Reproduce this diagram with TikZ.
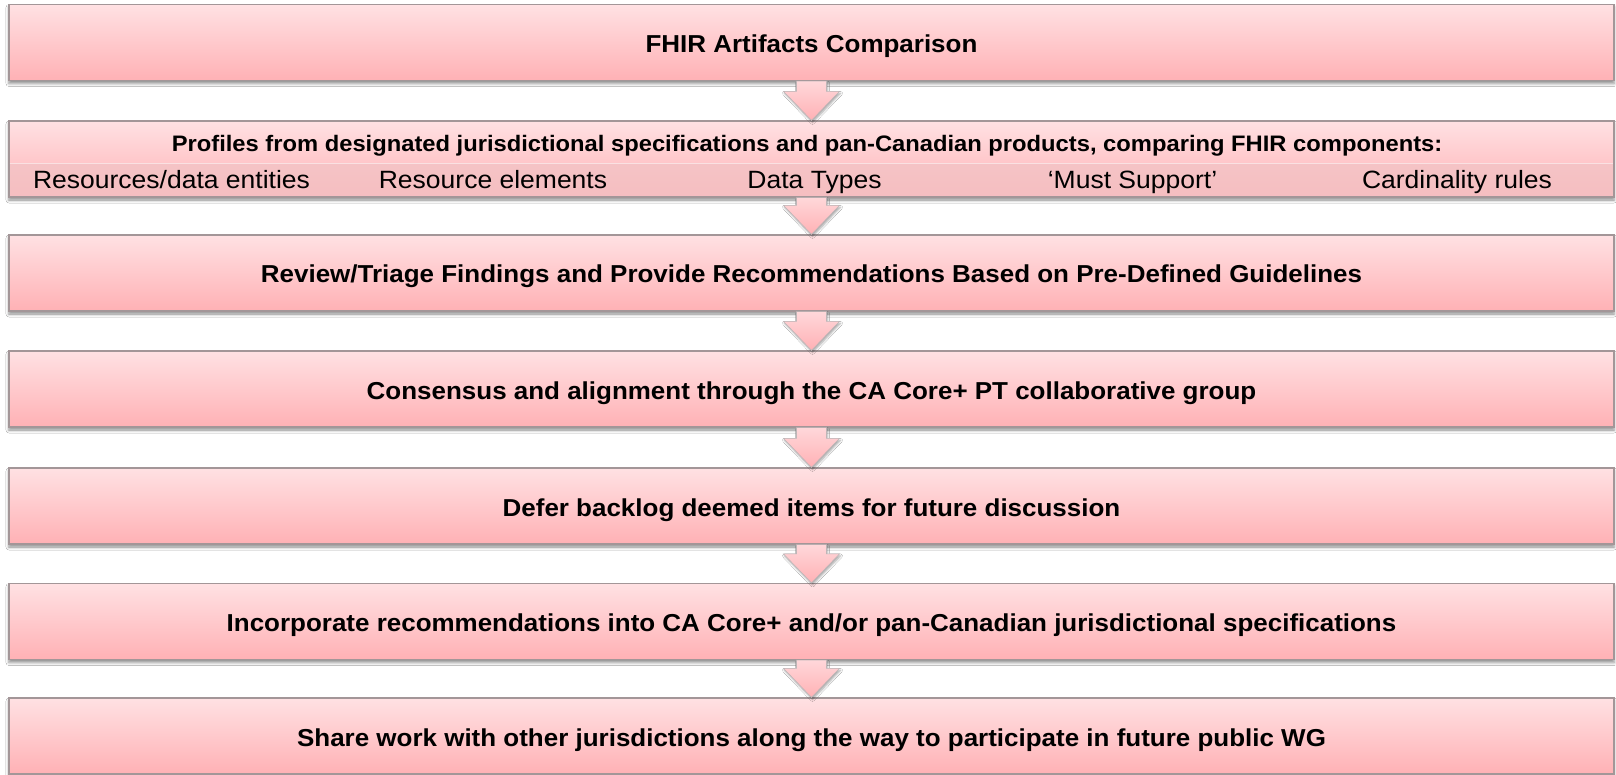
\documentclass[tikz,border=0pt]{standalone}
\usepackage{fontspec}
\setmainfont{Liberation Sans}
\newfontfamily\boxfont[FakeStretch=1.06]{Liberation Sans}
\usetikzlibrary{shadows.blur,calc}
\definecolor{pinktop}{HTML}{FFE1E3}
\definecolor{pinkbot}{HTML}{FFB1B5}
\definecolor{edgegray}{HTML}{A39698}
\definecolor{bandpink}{HTML}{F2C3C5}
\tikzset{
  stepbox/.style={draw=edgegray, line width=1.2pt, top color=pinktop, bottom color=pinkbot,
    minimum width=1605pt, minimum height=76pt, inner sep=0pt, anchor=center,
    text height=20pt, text depth=0pt,
    blur shadow={shadow xshift=0pt, shadow yshift=-3pt, shadow blur radius=3pt, shadow opacity=45},
    font=\boxfont\fontsize{24.5}{28}\selectfont\bfseries},
  bandtxt/.style={font=\boxfont\fontsize{25}{29}\selectfont, inner sep=0pt, anchor=base},
  downarrow/.style={draw=edgegray!70, line width=0.6pt, top color=pinktop!80!pinkbot, bottom color=pinkbot,
    blur shadow={shadow xshift=1pt, shadow yshift=-2pt, shadow blur radius=2pt, shadow opacity=35}}
}
\newcommand{\blockarrow}[2]{%
  \path[downarrow] let \p1=(#1.south), \p2=(#2.north) in
    (\x1-15pt,\y1) -- (\x1+15pt,\y1) -- (\x1+15pt,\y2+29pt) -- (\x1+28pt,\y2+29pt)
    -- (\x1,\y2) -- (\x1-28pt,\y2+29pt) -- (\x1-15pt,\y2+29pt) -- cycle;}
\begin{document}
\begin{tikzpicture}[x=1pt,y=-1pt]
\useasboundingbox[fill=white] (0,0) rectangle (1616,775);
\node[stepbox] (b1) at (811.5,42.5) {FHIR Artifacts Comparison};
\node[stepbox] (b2) at (811.5,159) {};
\node[stepbox] (b3) at (811.5,273) {Review/Triage Findings and Provide Recommendations Based on Pre-Defined Guidelines};
\node[stepbox] (b4) at (811.5,389) {Consensus and alignment through the CA Core+ PT collaborative group};
\node[stepbox] (b5) at (811.5,506) {Defer backlog deemed items for future discussion};
\node[stepbox] (b6) at (811.5,621.5) {Incorporate recommendations into CA Core+ and/or pan-Canadian jurisdictional specifications};
\node[stepbox] (b7) at (811.5,736) {Share work with other jurisdictions along the way to participate in future public WG};
% band inside box 2
\fill[bandpink, opacity=0.75] (9.6,163) rectangle (1613.4,196.4);
\draw[white, opacity=0.5, line width=0.6pt] (9.6,163) -- (1613.4,163);
\node[font=\boxfont\fontsize{22.4}{26}\selectfont\bfseries, inner sep=0pt, anchor=base] (b2t) at (807,151.7) {Profiles from designated jurisdictional specifications and pan-Canadian products, comparing FHIR components:};
\node[bandtxt] (r1) at (171.5,188.3) {Resources/data entities};
\node[bandtxt] (r2) at (493,188.3) {Resource elements};
\node[bandtxt] (r3) at (814.5,188.3) {Data Types};
\node[bandtxt] (r4) at (1132.5,188.3) {‘Must Support’};
\node[bandtxt] (r5) at (1457,188.3) {Cardinality rules};
% arrows
\blockarrow{b1}{b2}
\blockarrow{b2}{b3}
\blockarrow{b3}{b4}
\blockarrow{b4}{b5}
\blockarrow{b5}{b6}
\blockarrow{b6}{b7}
\end{tikzpicture}
\end{document}
